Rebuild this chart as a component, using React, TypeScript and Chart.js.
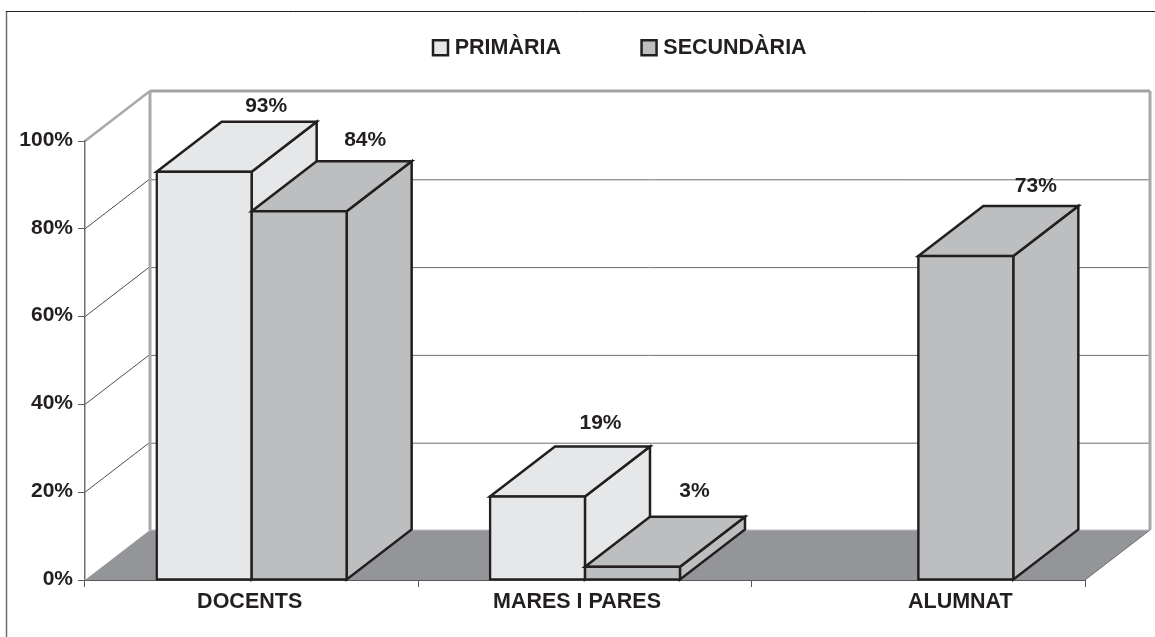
import React, { useEffect, useRef } from "react";
import { Chart, registerables } from "chart.js";

Chart.register(...registerables);

const categories = ["DOCENTS", "MARES I PARES", "ALUMNAT"];
const primaria = [93, 19, null];
const secundaria = [84, 3, 73.8];
const primariaLabels = ["93%", "19%", null];
const secundariaLabels = ["84%", "3%", "73%"];

const FONT = "'Liberation Sans', Arial, sans-serif";
const INK = "#231f20";
const DX = 65;
const DY = -50;

const labelNudge: Record<string, [number, number]> = {
  "93%": [-3, 5],
  "84%": [1, 0],
  "73%": [5, 1],
  "19%": [-2, -2],
  "3%": [-3, -5],
};
const categoryNudge = [-2, -8, 42];

const poly = (ctx: CanvasRenderingContext2D, pts: number[][]) => {
  ctx.beginPath();
  pts.forEach(([x, y], i) => (i ? ctx.lineTo(x, y) : ctx.moveTo(x, y)));
  ctx.closePath();
};

const line = (ctx: CanvasRenderingContext2D, x1: number, y1: number, x2: number, y2: number, color: string, w: number) => {
  ctx.strokeStyle = color;
  ctx.lineWidth = w;
  ctx.beginPath();
  ctx.moveTo(x1, y1);
  ctx.lineTo(x2, y2);
  ctx.stroke();
};

const drawFaces = (ctx: CanvasRenderingContext2D, meta: any, ds: any) => {
  ctx.save();
  ctx.lineJoin = "miter";
  ctx.lineWidth = 2.5;
  ctx.strokeStyle = INK;
  ctx.fillStyle = ds.backgroundColor;
  meta.data.forEach((el: any, i: number) => {
    if (ds.data[i] == null) return;
    const l = el.x - el.width / 2;
    const r = el.x + el.width / 2;
    poly(ctx, [[r, el.y], [r + DX, el.y + DY], [r + DX, el.base + DY], [r, el.base]]);
    ctx.fill();
    ctx.stroke();
    poly(ctx, [[l, el.y], [l + DX, el.y + DY], [r + DX, el.y + DY], [r, el.y]]);
    ctx.fill();
    ctx.stroke();
  });
  ctx.restore();
};

const scene3d = {
  id: "scene3d",
  beforeLayout(chart: any) {
    const l = chart.legend;
    if (l && !l.__patched) {
      const fit = l.fit;
      l.fit = function () {
        fit.call(this);
        this.height = 0;
      };
      l.__patched = true;
    }
  },
  afterLayout(chart: any) {
    const l = chart.legend;
    if (l) {
      l.left = 352.5;
      l.right = 1155;
      l.top = -47.5;
      l.bottom = 80;
    }
    chart.scales.x.getLabelItems().forEach((item: any, i: number) => {
      item.options.translation[0] += categoryNudge[i] || 0;
    });
  },
  beforeDraw(chart: any) {
    const { ctx, scales } = chart;
    const { x, y } = scales;
    const x0 = x.left, x1 = x.right;
    const y0 = y.getPixelForValue(0), y100 = y.getPixelForValue(100);
    ctx.save();
    // frame
    line(ctx, 6.5, 11, 6.5, 637, "#6d6e71", 1.5);
    line(ctx, 6, 11.5, 1155, 11.5, INK, 1);
    // floor
    ctx.fillStyle = "#939598";
    poly(ctx, [[x0, y0], [x0 + DX, y0 + DY], [x1 + DX, y0 + DY], [x1, y0]]);
    ctx.fill();
    line(ctx, x0 + DX, y0 + DY, x1 + DX, y0 + DY, "#bcbec0", 1);
    // grid on side and back walls
    for (const v of [20, 40, 60, 80]) {
      const p = y.getPixelForValue(v);
      line(ctx, x0, p, x0 + DX, p + DY, INK, 0.8);
      line(ctx, x0 + DX, p + DY + 1, x1 + DX - 1, p + DY + 1, "#6d6e71", 1);
    }
    // wall outline
    line(ctx, x0, y100, x0 + DX, y100 + DY, "#a7a9ac", 2.5);
    line(ctx, x0 + DX, y100 + DY, x1 + DX, y100 + DY, "#a0a2a5", 3);
    line(ctx, x0 + DX, y100 + DY, x0 + DX, y0 + DY, "#a7a9ac", 3);
    line(ctx, x1 + DX, y100 + DY, x1 + DX, y0 + DY, "#a7a9ac", 3);
    // right floor edge
    line(ctx, x1 + 1, y0 + 1, x1 + DX + 1, y0 + DY + 1, "#ffffff", 1.2);
    line(ctx, x1, y0, x1 + DX, y0 + DY, "#58595b", 0.8);
    ctx.restore();
  },
  beforeDatasetsDraw(chart: any) {
    // First series at the back, as in the original: faces, then the library's bars.
    chart.data.datasets.forEach((ds: any, i: number) => {
      const meta = chart.getDatasetMeta(i);
      drawFaces(chart.ctx, meta, ds);
      meta.controller.draw();
    });
  },
  beforeDatasetDraw() {
    return false;
  },
  afterDatasetsDraw(chart: any) {
    const { ctx } = chart;
    ctx.save();
    ctx.font = `bold 21px ${FONT}`;
    ctx.fillStyle = INK;
    ctx.textAlign = "center";
    ctx.textBaseline = "middle";
    chart.data.datasets.forEach((ds: any, di: number) => {
      chart.getDatasetMeta(di).data.forEach((el: any, i: number) => {
        const text = ds.valueLabels[i];
        if (!text) return;
        const [nx, ny] = labelNudge[text] || [0, 0];
        ctx.fillText(text, el.x + DX + nx, el.y + DY - 21 + ny);
      });
    });
    ctx.restore();
  },
};

export default function App() {
  const ref = useRef<HTMLCanvasElement | null>(null);
  useEffect(() => {
    const tickFont = { family: FONT, size: 21, weight: "bold" as const };
    const labelFont = { family: FONT, size: 21.5, weight: "bold" as const };
    const chart = new Chart(ref.current!, {
      type: "bar",
      data: {
        labels: categories,
        datasets: [
          {
            label: "PRIMÀRIA",
            data: primaria,
            valueLabels: primariaLabels,
            backgroundColor: "#e6e7e8",
          },
          {
            label: "SECUNDÀRIA",
            data: secundaria,
            valueLabels: secundariaLabels,
            backgroundColor: "#bcbec0",
          },
        ] as any,
      },
      options: {
        animation: false,
        responsive: false,
        events: [],
        layout: { padding: { top: 141, left: 0, right: 70, bottom: 0 } },
        datasets: {
          bar: {
            categoryPercentage: 0.57,
            barPercentage: 1,
            borderColor: INK,
            borderWidth: 2.5,
            borderSkipped: false,
            inflateAmount: 1.25,
            clip: false,
          },
        } as any,
        plugins: {
          title: { display: false },
          tooltip: { enabled: false },
          legend: {
            display: true,
            position: "top",
            align: "start",
            labels: {
              usePointStyle: true,
              pointStyle: "rect",
              boxWidth: 7,
              boxHeight: 15,
              padding: 84.5,
              color: INK,
              font: labelFont,
            },
          },
        },
        scales: {
          x: {
            offset: true,
            afterFit: (s: any) => { s.height = 57; },
            grid: { offset: true, drawOnChartArea: false, drawTicks: true, tickLength: 7, color: "#58595b", lineWidth: 1 },
            border: { color: "#58595b", width: 1 },
            ticks: { font: labelFont, color: INK, padding: 2, maxRotation: 0, autoSkip: false },
          },
          y: {
            min: 0,
            max: 100,
            afterFit: (s: any) => { s.width = 85; },
            grid: { drawOnChartArea: false, drawTicks: true, tickLength: 7, color: "#58595b", lineWidth: 1 },
            border: { color: "#6d6e71", width: 1.5 },
            ticks: {
              stepSize: 20,
              font: tickFont,
              color: INK,
              padding: 5,
              labelOffset: -1,
              callback: (v: any) => `${v}%`,
            },
          },
        },
      },
      plugins: [scene3d],
    } as any);
    return () => chart.destroy();
  }, []);
  return (
    <canvas
      ref={ref}
      width={1155}
      height={637}
      style={{ position: "absolute", left: 0, top: 0, display: "block" }}
    />
  );
}
